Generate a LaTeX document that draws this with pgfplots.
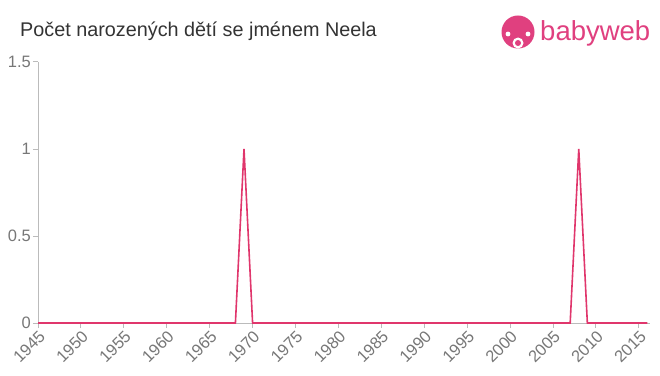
\documentclass[border=0pt]{standalone}
\usepackage{pgfplots}
\pgfplotsset{compat=1.18}
\usepackage{fontspec}
\setmainfont{Liberation Sans}
\definecolor{lineC}{HTML}{E0366C}
\definecolor{axC}{HTML}{BBBBBB}
\definecolor{tickC}{HTML}{777777}
\definecolor{titleC}{HTML}{333333}
\definecolor{logoC}{HTML}{E0407F}
\begin{document}
\begin{tikzpicture}
\useasboundingbox (0pt,0pt) rectangle (660pt,375pt);
\node[anchor=west,text=titleC,font=\fontsize{19.8}{22}\selectfont,inner sep=0pt] at (20pt,344pt) {Počet narozených dětí se jménem Neela};
% logo
\fill[logoC] (518pt,343pt) circle (16.5pt);
\fill[white] (518pt,332pt) circle (5.5pt);
\fill[logoC] (518pt,332pt) circle (3pt);
\fill[white] (508pt,341pt) circle (2.4pt);
\fill[white] (528pt,341pt) circle (2.4pt);
\node[anchor=west,text=logoC,font=\fontsize{27.5}{30}\selectfont,inner sep=0pt] at (540pt,342pt) {babyweb};
\begin{axis}[
  at={(38pt,52pt)}, anchor=south west,
  scale only axis, width=612pt, height=261pt,
  xmin=1945, xmax=2016.3, ymin=0, ymax=1.5,
  axis x line*=bottom, axis y line*=left,
  axis line style={axC, line width=1pt},
  xtick={1945,1950,...,2015},
  ytick={0,0.5,1,1.5},
  /pgf/number format/assume math mode=true,
  /pgf/number format/1000 sep={},
  x tick label style={rotate=45, anchor=north east, font=\fontsize{16.5}{18}\selectfont, text=tickC, inner sep=1pt},
  y tick label style={font=\fontsize{16.5}{18}\selectfont, text=tickC, inner sep=2pt},
  tick style={axC, line width=1pt},
  tick align=outside, major tick length=5pt,
  clip=false,
]
\addplot[lineC, line width=1.6pt, mark=none] coordinates {
(1945,0)(1946,0)(1947,0)(1948,0)(1949,0)(1950,0)(1951,0)(1952,0)(1953,0)(1954,0)
(1955,0)(1956,0)(1957,0)(1958,0)(1959,0)(1960,0)(1961,0)(1962,0)(1963,0)(1964,0)
(1965,0)(1966,0)(1967,0)(1968,0)(1969,1)(1970,0)(1971,0)(1972,0)(1973,0)(1974,0)
(1975,0)(1976,0)(1977,0)(1978,0)(1979,0)(1980,0)(1981,0)(1982,0)(1983,0)(1984,0)
(1985,0)(1986,0)(1987,0)(1988,0)(1989,0)(1990,0)(1991,0)(1992,0)(1993,0)(1994,0)
(1995,0)(1996,0)(1997,0)(1998,0)(1999,0)(2000,0)(2001,0)(2002,0)(2003,0)(2004,0)
(2005,0)(2006,0)(2007,0)(2008,1)(2009,0)(2010,0)(2011,0)(2012,0)(2013,0)(2014,0)
(2015,0)(2016,0)
};
\end{axis}
\end{tikzpicture}
\end{document}
